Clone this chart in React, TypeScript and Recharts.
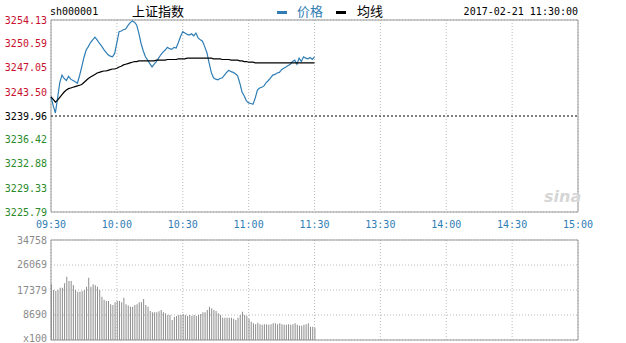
import React from "react";
import {
  ComposedChart,
  LineChart,
  Line,
  Bar,
  XAxis,
  YAxis,
  CartesianGrid,
  ReferenceLine,
  ReferenceArea,
} from "recharts";

// minute index 0 = 09:30, 240 = 15:00 (lunch break folded out)
const timeTicks = [0, 30, 60, 90, 120, 150, 180, 210, 240];
const timeLabels = ["09:30", "10:00", "10:30", "11:00", "11:30", "13:30", "14:00", "14:30", "15:00"];

const prevClose = 3239.96;
const priceTicks = [3225.79, 3229.33, 3232.88, 3236.42, 3239.96, 3243.5, 3247.05, 3250.59, 3254.13];
const pctLabels = ["-0.44%", "-0.33%", "-0.22%", "-0.11%", "0.00%", "+0.11%", "+0.22%", "+0.33%", "+0.44%"];

const volTicks = [0, 8690, 17379, 26069, 34758];
const volLabels = ["x100", "8690", "17379", "26069", "34758"];

// one value per minute, 09:30 .. 11:30
const priceSeries = [
  3242.8, 3241.5, 3240.4, 3242.6, 3244.9, 3246.0, 3245.5, 3245.2, 3245.8, 3245.4,
  3245.2, 3245.0, 3244.8, 3245.9, 3247.2, 3248.6, 3249.7, 3250.2, 3250.8, 3251.2,
  3251.6, 3251.2, 3250.7, 3250.3, 3249.8, 3249.4, 3249.0, 3248.8, 3248.7, 3249.2,
  3250.8, 3252.4, 3252.5, 3252.7, 3252.8, 3253.3, 3253.7, 3254.0, 3253.8, 3253.4,
  3252.2, 3250.7, 3249.6, 3248.7, 3248.2, 3247.7, 3247.2, 3247.6, 3248.0, 3248.5,
  3249.0, 3249.4, 3249.7, 3250.1, 3249.9, 3249.8, 3250.1, 3250.0, 3250.8, 3251.7,
  3252.4, 3252.2, 3252.0, 3251.9, 3252.1, 3251.8, 3252.2, 3251.5, 3251.2, 3251.0,
  3250.2, 3249.3, 3247.8, 3246.4, 3245.6, 3245.4, 3245.3, 3245.5, 3245.6, 3246.0,
  3246.4, 3246.7, 3246.5, 3246.4, 3246.2, 3245.9, 3244.8, 3243.5, 3242.9, 3242.2,
  3241.9, 3241.8, 3241.7, 3242.6, 3243.8, 3244.1, 3244.2, 3244.4, 3244.9, 3245.2,
  3245.6, 3246.0, 3246.1, 3246.3, 3246.4, 3246.8, 3247.0, 3247.2, 3247.4, 3247.6,
  3248.0, 3248.2, 3247.6, 3248.5, 3248.0, 3248.7, 3248.5, 3248.4, 3248.6, 3248.3,
  3248.7,
];

const avgSeries = [
  3242.8, 3242.4, 3242.0, 3242.3, 3242.7, 3243.1, 3243.5, 3243.8, 3244.0, 3244.1,
  3244.2, 3244.3, 3244.4, 3244.5, 3244.6, 3244.9, 3245.2, 3245.5, 3245.7, 3245.9,
  3246.1, 3246.3, 3246.4, 3246.5, 3246.6, 3246.6, 3246.7, 3246.8, 3246.9, 3246.9,
  3247.0, 3247.2, 3247.3, 3247.5, 3247.6, 3247.7, 3247.8, 3247.9, 3248.0, 3248.0,
  3248.1, 3248.1, 3248.1, 3248.1, 3248.1, 3248.1, 3248.1, 3248.1, 3248.2, 3248.2,
  3248.2, 3248.2, 3248.2, 3248.3, 3248.3, 3248.3, 3248.3, 3248.3, 3248.4, 3248.4,
  3248.4, 3248.4, 3248.5, 3248.5, 3248.5, 3248.5, 3248.5, 3248.5, 3248.5, 3248.5,
  3248.5, 3248.5, 3248.5, 3248.5, 3248.4, 3248.4, 3248.4, 3248.4, 3248.3, 3248.3,
  3248.3, 3248.3, 3248.2, 3248.2, 3248.2, 3248.2, 3248.1, 3248.1, 3248.0, 3248.0,
  3247.9, 3247.9, 3247.9, 3247.8, 3247.8, 3247.8, 3247.8, 3247.8, 3247.8, 3247.8,
  3247.8, 3247.8, 3247.8, 3247.8, 3247.8, 3247.8, 3247.8, 3247.8, 3247.8, 3247.8,
  3247.8, 3247.8, 3247.8, 3247.8, 3247.8, 3247.8, 3247.8, 3247.8, 3247.8, 3247.8,
  3247.8,
];

const volumeSeries = [
  19350, 17380, 17000, 17380, 18190, 18190, 19700, 22010, 20500, 20500,
  19120, 17380, 16800, 16800, 17000, 17380, 18540, 21670, 18540, 19350,
  19000, 18540, 17380, 15060, 14000, 13560, 13560, 12400, 12170, 13090,
  13560, 13560, 13090, 14710, 12400, 12000, 11590, 11590, 12170, 12400,
  13090, 13090, 14250, 12170, 11590, 10080, 9620, 9620, 9620, 10000,
  10430, 9620, 9270, 8690, 8690, 6950, 8000, 8350, 8690, 8690,
  9000, 8690, 8350, 8690, 8350, 8690, 8350, 8690, 9000, 9620,
  9620, 10430, 11590, 11010, 10430, 10080, 9270, 8690, 7760, 7760,
  7760, 7760, 7760, 7400, 6950, 7760, 8690, 9800, 8690, 8350,
  7400, 6300, 5790, 5440, 6000, 5440, 5300, 5440, 5440, 5300,
  5440, 5790, 5790, 5440, 5790, 5440, 5300, 5300, 5440, 5300,
  5440, 5790, 5300, 4980, 4980, 5300, 5440, 5790, 4640, 4640,
  4290,
];

const data = priceSeries.map((p, i) => ({
  m: i,
  price: p,
  avg: avgSeries[i],
  vol: volumeSeries[i],
}));

const MONO = "'DejaVu Sans Mono', monospace";
const CJK = "'Noto Sans CJK SC', sans-serif";
const RED = "#c8102e";
const GREEN = "#2a8a2a";
const BLUE = "#2f7db5";
const FRAME = "#999";
const GRID = "#bbb";

function PriceTick({ x, y, payload }: any) {
  const v = payload.value;
  const fill = v > prevClose + 0.001 ? RED : v < prevClose - 0.001 ? GREEN : "#000";
  return (
    <text x={x} y={y} textAnchor="end" dominantBaseline="central" fill={fill} fontSize={10} fontFamily={MONO}>
      {v.toFixed(2)}
    </text>
  );
}

function PctTick({ x, y, payload }: any) {
  const v = payload.value;
  const i = priceTicks.indexOf(v);
  const fill = v > prevClose + 0.001 ? RED : v < prevClose - 0.001 ? GREEN : "#000";
  return (
    <text x={x + 38} y={y} textAnchor="end" dominantBaseline="central" fill={fill} fontSize={10} fontFamily={MONO}>
      {pctLabels[i]}
    </text>
  );
}

function TimeTick({ x, y, payload }: any) {
  const i = timeTicks.indexOf(payload.value);
  return (
    <text x={x} y={y + 4} textAnchor="middle" dominantBaseline="central" fill={BLUE} fontSize={10} fontFamily={MONO}>
      {timeLabels[i]}
    </text>
  );
}

function VolTick({ x, y, payload }: any) {
  const i = volTicks.indexOf(payload.value);
  // bottom label sits just inside the frame edge
  const dy = payload.value === 0 ? -2 : 0;
  return (
    <text x={x} y={y + dy} textAnchor="end" dominantBaseline="central" fill="#8a8a8a" fontSize={10} fontFamily={MONO}>
      {volLabels[i]}
    </text>
  );
}

export default function App() {
  return (
    <div style={{ position: "absolute", left: 0, top: 0, width: 626, height: 343, background: "#fff", overflow: "hidden" }}>
      {/* header */}
      <div style={{ position: "absolute", left: 50, top: 6, fontFamily: MONO, fontSize: 10, color: "#000" }}>sh000001</div>
      <div style={{ position: "absolute", left: 132, top: 3, fontFamily: CJK, fontSize: 13, lineHeight: "16px", color: "#000" }}>上证指数</div>
      <div style={{ position: "absolute", left: 277, top: 11, width: 10, height: 3, background: BLUE }} />
      <div style={{ position: "absolute", left: 297, top: 3, fontFamily: CJK, fontSize: 13, lineHeight: "16px", color: BLUE }}>价格</div>
      <div style={{ position: "absolute", left: 336, top: 11, width: 10, height: 3, background: "#000" }} />
      <div style={{ position: "absolute", left: 357, top: 3, fontFamily: CJK, fontSize: 13, lineHeight: "16px", color: "#000" }}>均线</div>
      <div style={{ position: "absolute", right: 48, top: 6, fontFamily: MONO, fontSize: 10, color: "#000" }}>2017-02-21 11:30:00</div>

      {/* intraday price */}
      <div style={{ position: "absolute", left: 0, top: 0 }}>
        <LineChart width={626} height={232} data={data} margin={{ top: 20, right: 0, bottom: 0, left: 0 }}>
          <CartesianGrid stroke={GRID} strokeDasharray="1 2" />
          <XAxis
            dataKey="m"
            type="number"
            domain={[0, 240]}
            ticks={timeTicks}
            interval={0}
            height={20}
            axisLine={false}
            tickLine={false}
            tick={<TimeTick />}
          />
          <YAxis
            yAxisId="p"
            orientation="left"
            width={51}
            domain={[priceTicks[0], priceTicks[priceTicks.length - 1]]}
            ticks={priceTicks}
            interval={0}
            axisLine={false}
            tickLine={false}
            tickSize={2}
            tickMargin={2}
            tick={<PriceTick />}
          />
          <YAxis
            yAxisId="r"
            orientation="right"
            width={48}
            domain={[priceTicks[0], priceTicks[priceTicks.length - 1]]}
            ticks={priceTicks}
            interval={0}
            axisLine={false}
            tickLine={false}
            tickSize={3}
            tickMargin={2}
            tick={<PctTick />}
          />
          <ReferenceArea
            yAxisId="p"
            x1={0}
            x2={240}
            y1={priceTicks[0]}
            y2={priceTicks[priceTicks.length - 1]}
            fill="none"
            stroke={FRAME}
            strokeWidth={1}
          />
          <ReferenceLine yAxisId="p" y={prevClose} stroke="#000" strokeDasharray="2 2" />
          <Line
            yAxisId="p"
            type="linear"
            dataKey="price"
            stroke={BLUE}
            strokeWidth={1.2}
            dot={false}
            isAnimationActive={false}
          />
          <Line
            yAxisId="p"
            type="linear"
            dataKey="avg"
            stroke="#000"
            strokeWidth={1.2}
            dot={false}
            isAnimationActive={false}
          />
        </LineChart>
      </div>

      <div
        style={{
          position: "absolute",
          left: 544,
          top: 187,
          fontFamily: "'DejaVu Sans', sans-serif",
          fontStyle: "italic",
          fontWeight: "bold",
          fontSize: 16,
          color: "#d6d6d6",
        }}
      >
        sina
      </div>

      {/* volume */}
      <div style={{ position: "absolute", left: 0, top: 232 }}>
        <ComposedChart width={626} height={111} data={data} margin={{ top: 8, right: 48, bottom: 3, left: 0 }}>
          <CartesianGrid stroke={GRID} strokeDasharray="1 2" />
          <XAxis dataKey="m" type="number" domain={[0, 240]} ticks={timeTicks} interval={0} hide />
          <YAxis
            width={51}
            domain={[0, volTicks[volTicks.length - 1]]}
            ticks={volTicks}
            interval={0}
            axisLine={false}
            tickLine={false}
            tickSize={2}
            tickMargin={2}
            tick={<VolTick />}
          />
          <ReferenceArea
            x1={0}
            x2={240}
            y1={0}
            y2={volTicks[volTicks.length - 1]}
            fill="none"
            stroke={FRAME}
            strokeWidth={1}
          />
          <Bar dataKey="vol" fill="#8c8c8c" barSize={1} isAnimationActive={false} />
        </ComposedChart>
      </div>
    </div>
  );
}
